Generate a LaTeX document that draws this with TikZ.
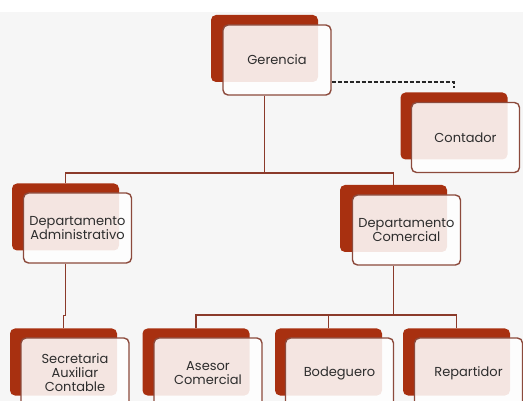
\documentclass[tikz,border=0pt]{standalone}
\usepackage{fontspec}
\setmainfont{Poppins}
\usetikzlibrary{positioning, calc}
\definecolor{brickred}{RGB}{168, 48, 16}
\definecolor{rimbrown}{RGB}{140, 74, 60}
\definecolor{linkbrown}{RGB}{139, 58, 42}
\definecolor{pagegray}{RGB}{246, 246, 246}
\definecolor{inkgray}{RGB}{45, 45, 45}

\begin{document}
\begin{tikzpicture}[
    x=1pt, y=-1pt,
    backBox/.style={fill=brickred, rounded corners=5pt, minimum width=107pt, minimum height=67pt, inner sep=0pt},
    frontBox/.style={draw=rimbrown, line width=1.4pt, fill=white, fill opacity=0.88, draw opacity=1, text opacity=1, rounded corners=5pt, minimum width=108pt, minimum height=70pt, inner sep=2pt, align=center, font=\fontsize{13}{14}\selectfont, text=inkgray},
    linkLine/.style={draw=linkbrown, line width=1.3pt},
    dashLine/.style={draw=black!85, line width=1.4pt, dash pattern=on 4pt off 2pt}
]

% Page
\useasboundingbox (0,0) rectangle (523,401);
\clip (0,0) rectangle (523,401);
\fill[pagegray] (0,0) rectangle (523,401);
\fill[white] (0,0) rectangle (523,12);

% Top level
\node[backBox] (gerB) at (264.5, 48.5) {};
\node[frontBox] (ger) at (277, 60) {Gerencia};

% Staff position
\node[backBox] (conB) at (454, 126) {};
\node[frontBox] (con) at (465.5, 137.5) {Contador};
\coordinate (conTip) at (454, 88);
\draw[dashLine] (ger.east |- gerB.south) -| (conTip);

% Departments
\node[backBox] (admB) at (65.5, 217) {};
\node[frontBox] (adm) at (77.5, 228) {Departamento\\Administrativo};
\node[backBox] (comB) at (393.5, 218.5) {};
\node[frontBox] (com) at (406.5, 230) {Departamento\\Comercial};
\coordinate (busTop) at (264.5, 173);
\draw[linkLine] (gerB |- ger.south) -- (busTop);
\draw[linkLine] (admB.north) |- (busTop) -| (comB.north);

% Staff
\node[backBox] (secB) at (63.5, 362) {};
\node[frontBox] (sec) at (75, 373) {Secretaria\\Auxiliar\\Contable};
\node[backBox] (aseB) at (196, 362) {};
\node[frontBox] (ase) at (208, 373) {Asesor\\Comercial};
\node[backBox] (bodB) at (328.5, 362) {};
\node[frontBox] (bod) at (339.5, 373) {Bodeguero};
\node[backBox] (repB) at (456.5, 362) {};
\node[frontBox] (rep) at (468.5, 373) {Repartidor};

\draw[linkLine] (admB |- adm.south) -- ++(0, 52) -| (secB.north);
\coordinate (busLow) at (393.5, 315);
\draw[linkLine] (comB |- com.south) -- (busLow);
\draw[linkLine] (aseB.north) |- (busLow) -| (repB.north);
\draw[linkLine] (bodB.north) -- (bodB.north |- busLow);

\end{tikzpicture}
\end{document}
